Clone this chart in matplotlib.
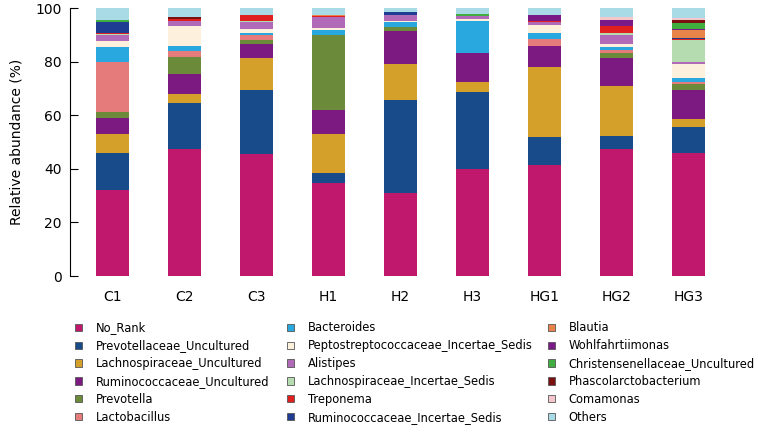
import matplotlib
matplotlib.use("Agg")
import matplotlib.pyplot as plt
from matplotlib.patches import Patch
import numpy as np

# samples
samples = ["C1", "C2", "C3", "H1", "H2", "H3", "HG1", "HG2", "HG3"]

taxa = ["No_Rank", "Prevotellaceae_Uncultured", "Lachnospiraceae_Uncultured",
        "Ruminococcaceae_Uncultured", "Prevotella", "Lactobacillus",
        "Bacteroides", "Peptostreptococcaceae_Incertae_Sedis", "Alistipes",
        "Lachnospiraceae_Incertae_Sedis", "Treponema", "Ruminococcaceae_Incertae_Sedis",
        "Blautia", "Wohlfahrtiimonas", "Christensenellaceae_Uncultured",
        "Phascolarctobacterium", "Comamonas", "Others"]

colors = ["#c0186c", "#174b8a", "#d4a02a", "#7c1a82", "#6b8a3a", "#e67b7b",
          "#29a8df", "#fdf0dc", "#b06ab8", "#b5dbb0", "#e0201f", "#1f3c93",
          "#e8844a", "#7a1a86", "#3fae3f", "#7a1010", "#f5c6cc", "#a8dbe6"]

# relative abundance (%) per taxon, one value per sample (C1 .. HG3)
no_rank       = [32.1, 47.5, 45.5, 34.8, 30.9, 40.0, 41.6, 47.3, 45.8]
prevotellac_u = [14.0, 17.2, 24.1, 3.7, 35.1, 28.7, 10.2, 5.1, 10.0]
lachno_u      = [6.8, 3.1, 11.9, 14.5, 13.4, 3.7, 26.3, 18.5, 3.0]
rumino_u      = [6.2, 7.6, 5.3, 9.1, 12.1, 10.8, 8.0, 10.7, 10.5]
prevotella    = [2.2, 6.2, 1.3, 27.8, 1.5, 0.0, 0.0, 1.6, 2.5]
lactobacillus = [18.7, 2.5, 1.8, 0.0, 0.0, 0.0, 2.5, 1.3, 0.8]
bacteroides   = [5.5, 1.8, 0.8, 1.8, 2.0, 12.2, 2.2, 1.1, 1.2]
pepto_is      = [2.4, 7.6, 1.5, 0.8, 0.6, 0.6, 3.1, 1.2, 5.5]
alistipes     = [2.0, 1.6, 2.5, 4.1, 2.1, 1.2, 1.0, 3.4, 0.8]
lachno_is     = [0.4, 0.3, 0.4, 0.0, 0.0, 0.0, 0.0, 0.6, 8.0]
treponema     = [0.5, 0.4, 2.4, 0.4, 0.0, 0.0, 0.6, 2.7, 0.5]
rumino_is     = [4.1, 0.0, 0.0, 0.0, 0.9, 0.0, 0.0, 0.0, 0.3]
blautia       = [0.0, 0.3, 0.0, 0.4, 0.0, 0.0, 0.0, 0.0, 3.0]
wohlf         = [0.0, 0.0, 0.0, 0.0, 0.0, 0.0, 2.1, 2.2, 0.5]
christ_u      = [0.6, 0.0, 0.0, 0.0, 0.0, 0.6, 0.0, 0.0, 2.0]
phasco        = [0.0, 0.8, 0.0, 0.0, 0.0, 0.0, 0.0, 0.0, 1.3]
comamonas     = [0.0, 0.0, 0.0, 0.0, 0.0, 0.0, 0.0, 1.3, 0.5]
others        = [4.5, 3.1, 2.5, 2.5, 1.6, 2.2, 2.5, 3.1, 3.8]

values = [no_rank, prevotellac_u, lachno_u, rumino_u, prevotella, lactobacillus,
          bacteroides, pepto_is, alistipes, lachno_is, treponema, rumino_is,
          blautia, wohlf, christ_u, phasco, comamonas, others]

fig = plt.figure(figsize=(7.58, 4.32), dpi=100)
ax = fig.add_axes([0.092, 0.361, 0.873, 0.62])

x = np.arange(len(samples))
data = np.array(values, dtype=float)
data = data / data.sum(axis=0) * 100  # stacks add up to 100 %
bottom = np.zeros(len(samples))
for vals, col in zip(data, colors):
    ax.bar(x, vals, 0.46, bottom=bottom, color=col)
    bottom += vals

ax.set_xlim(-0.6, 8.6)
ax.set_ylim(0, 100)
ax.set_yticks([0, 20, 40, 60, 80, 100])
ax.set_xticks(x)
ax.set_xticklabels(samples, fontsize=10)
ax.tick_params(axis="y", direction="in", length=6, labelsize=10, pad=6)
ax.tick_params(axis="x", length=0, pad=10)
for s in ["top", "right", "bottom"]:
    ax.spines[s].set_visible(False)
ax.set_ylabel("Relative abundance (%)", fontsize=10, labelpad=8)

# legend in three columns
for c, xa in enumerate([0.099, 0.379, 0.723]):
    handles = [Patch(facecolor=colors[i], edgecolor="#555555", linewidth=0.6)
               for i in range(c * 6, c * 6 + 6)]
    fig.legend(handles, taxa[c * 6:c * 6 + 6], loc="upper left",
               bbox_to_anchor=(xa, 0.256), frameon=False, fontsize=8.3,
               handlelength=0.6, handleheight=0.6, handletextpad=1.2,
               labelspacing=0.42, borderaxespad=0, borderpad=0)

plt.savefig("out.png", dpi=100)
